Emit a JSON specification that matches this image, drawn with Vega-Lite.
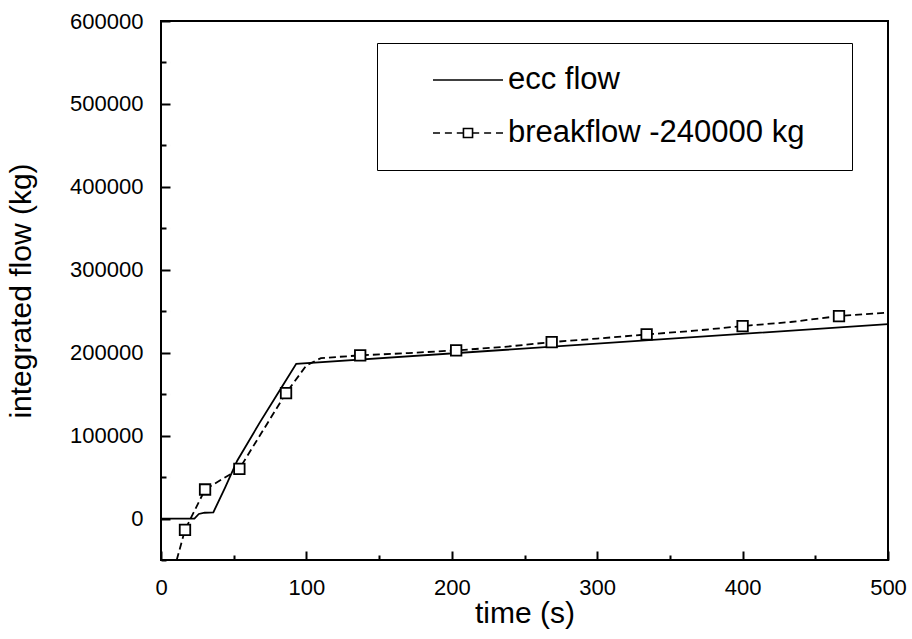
{
  "$schema": "https://vega.github.io/schema/vega-lite/v6.json",
  "width": 727,
  "height": 539,
  "autosize": {"type": "none"},
  "padding": {"left": 161, "top": 21, "right": 24, "bottom": 79},
  "background": "white",
  "config": {
    "view": {"stroke": "black", "strokeWidth": 2},
    "font": "Liberation Sans",
    "axis": {
      "grid": false,
      "domain": false,
      "tickColor": "black",
      "tickWidth": 2,
      "tickSize": 9,
      "offset": -9,
      "labelFont": "Liberation Sans",
      "labelFontSize": 22,
      "labelColor": "black",
      "titleFont": "Liberation Sans",
      "titleFontSize": 30,
      "titleFontWeight": "normal",
      "titleColor": "black",
      "labelFlush": false,
      "labelOverlap": false
    }
  },
  "data": {
    "values": [
      {"series": "ecc flow", "t": 0, "v": 0, "m": 0},
      {"series": "ecc flow", "t": 23, "v": 0, "m": 0},
      {"series": "ecc flow", "t": 26, "v": 5500, "m": 0},
      {"series": "ecc flow", "t": 30, "v": 7000, "m": 0},
      {"series": "ecc flow", "t": 36, "v": 7500, "m": 0},
      {"series": "ecc flow", "t": 44, "v": 37000, "m": 0},
      {"series": "ecc flow", "t": 52.5, "v": 70000, "m": 0},
      {"series": "ecc flow", "t": 68, "v": 116000, "m": 0},
      {"series": "ecc flow", "t": 80, "v": 150000, "m": 0},
      {"series": "ecc flow", "t": 93, "v": 186500, "m": 0},
      {"series": "ecc flow", "t": 500, "v": 234500, "m": 0},
      {"series": "breakflow -240000 kg", "t": 10.8, "v": -50000, "m": 0},
      {"series": "breakflow -240000 kg", "t": 16.5, "v": -13700, "m": 1},
      {"series": "breakflow -240000 kg", "t": 30.3, "v": 35000, "m": 1},
      {"series": "breakflow -240000 kg", "t": 53.9, "v": 60000, "m": 1},
      {"series": "breakflow -240000 kg", "t": 86, "v": 151300, "m": 1},
      {"series": "breakflow -240000 kg", "t": 100, "v": 184700, "m": 0},
      {"series": "breakflow -240000 kg", "t": 110, "v": 193500, "m": 0},
      {"series": "breakflow -240000 kg", "t": 137, "v": 196800, "m": 1},
      {"series": "breakflow -240000 kg", "t": 170, "v": 199500, "m": 0},
      {"series": "breakflow -240000 kg", "t": 203, "v": 202800, "m": 1},
      {"series": "breakflow -240000 kg", "t": 236, "v": 207000, "m": 0},
      {"series": "breakflow -240000 kg", "t": 268.7, "v": 212800, "m": 1},
      {"series": "breakflow -240000 kg", "t": 300, "v": 217000, "m": 0},
      {"series": "breakflow -240000 kg", "t": 334, "v": 222000, "m": 1},
      {"series": "breakflow -240000 kg", "t": 367, "v": 226500, "m": 0},
      {"series": "breakflow -240000 kg", "t": 400, "v": 232100, "m": 1},
      {"series": "breakflow -240000 kg", "t": 433, "v": 237000, "m": 0},
      {"series": "breakflow -240000 kg", "t": 466.3, "v": 244200, "m": 1},
      {"series": "breakflow -240000 kg", "t": 500, "v": 248300, "m": 0}
    ]
  },
  "encoding": {
    "x": {
      "field": "t", "type": "quantitative",
      "scale": {"domain": [0, 500], "nice": false, "zero": false},
      "axis": {
        "title": "time (s)",
        "values": [50, 100, 150, 200, 250, 300, 350, 400, 450, 0, 500],
        "format": "d",
        "labelExpr": "datum.value % 100 === 0 ? datum.label : ''",
        "tickDash": {"condition": {"test": "datum.value % 100 === 0", "value": [9, 1]}, "value": [0.01, 4, 5, 100]},
        "labelPadding": 17,
        "titlePadding": 0
      }
    },
    "y": {
      "field": "v", "type": "quantitative",
      "scale": {"domain": [-50000, 600000], "nice": false, "zero": false},
      "axis": {
        "title": "integrated flow (kg)",
        "values": [-50000, 0, 50000, 100000, 150000, 200000, 250000, 300000, 350000, 400000, 450000, 500000, 550000, 600000],
        "format": "d",
        "labelExpr": "datum.value % 100000 === 0 ? datum.label : ''",
        "tickDash": {"condition": {"test": "datum.value % 100000 === 0", "value": [9, 1]}, "value": [0.01, 4, 5, 100]},
        "labelPadding": 18,
        "titlePadding": 33
      }
    }
  },
  "layer": [
    {
      "transform": [{"filter": "datum.series === 'ecc flow'"}],
      "mark": {"type": "line", "color": "black", "strokeWidth": 1.8}
    },
    {
      "transform": [{"filter": "datum.series === 'breakflow -240000 kg'"}],
      "mark": {"type": "line", "color": "black", "strokeWidth": 1.8, "strokeDash": [7, 4]}
    },
    {
      "transform": [{"filter": "datum.series === 'breakflow -240000 kg' && datum.m === 1"}],
      "mark": {"type": "point", "shape": "square", "size": 110, "filled": true, "fill": "white", "stroke": "black", "strokeWidth": 1.8, "opacity": 1}
    },
    {
      "transform": [{"filter": "false"}],
      "mark": {"type": "point", "color": "black", "filled": false, "opacity": 1, "size": 4900, "strokeWidth": 1.6},
      "encoding": {
        "shape": {
          "field": "series", "type": "nominal",
          "scale": {
            "domain": ["ecc flow", "breakflow -240000 kg"],
            "range": ["M-1,0H1", "M-1,0H-0.8M-0.66,0H-0.46M-0.32,0H-0.13M-0.13,-0.13H0.13V0.13H-0.13ZM0.13,0H0.32M0.46,0H0.66M0.8,0H1"]
          },
          "legend": {
            "title": " ",
            "titleOrient": "right",
            "titlePadding": 26,
            "titleFontSize": 6,
            "orient": "none",
            "legendX": 216,
            "legendY": 22,
            "padding": 22,
            "strokeColor": "black",
            "fillColor": "white",
            "cornerRadius": 0,
            "symbolSize": 4900,
            "symbolStrokeWidth": 1.6,
            "symbolStrokeColor": "black",
            "symbolFillColor": "transparent",
            "symbolOffset": 33,
            "labelOffset": 4,
            "clipHeight": 30,
            "rowPadding": 22,
            "labelFont": "Liberation Sans",
            "labelFontSize": 31,
            "labelColor": "black",
            "labelLimit": 500
          }
        }
      }
    }
  ]
}
